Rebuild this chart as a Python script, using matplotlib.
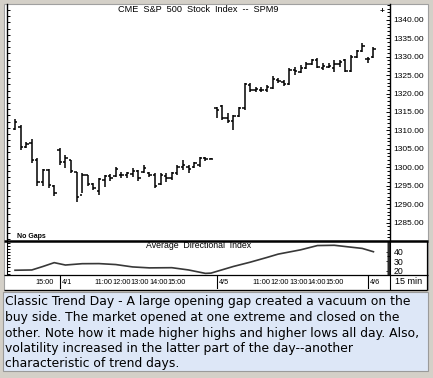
import matplotlib
matplotlib.use("Agg")
import matplotlib.pyplot as plt
import numpy as np
from matplotlib.lines import Line2D
from matplotlib.patches import Rectangle
from matplotlib.transforms import blended_transform_factory
from matplotlib import font_manager

W, H = 433, 378

# 15 min bars: 3/31 afternoon, 4/1, 4/5, 4/6 open
highs = [1313.1, 1311.5, 1306.8, 1307.7, 1302.6, 1299.6, 1299.6, 1295.2,
         1305.3, 1303.4, 1302.0, 1298.8, 1298.5, 1298.0, 1295.8, 1297.0, 1298.0, 1298.3,
         1300.1, 1298.8, 1298.8, 1299.9, 1299.3, 1300.7, 1298.8, 1298.5, 1298.5, 1298.5,
         1298.8, 1300.7, 1302.0, 1300.7, 1301.5, 1302.8, 1302.8, 1302.4,
         1316.4, 1316.9, 1314.7, 1314.2, 1316.4, 1322.8, 1322.8, 1321.8, 1321.8, 1322.3,
         1324.7, 1324.2, 1323.6, 1326.9, 1327.2, 1327.7, 1328.5, 1329.3, 1329.6, 1328.2,
         1328.2, 1329.1, 1329.1, 1329.5, 1330.4, 1331.8, 1333.6,
         1330.0, 1332.6]
lows = [1310.0, 1304.7, 1305.2, 1301.2, 1295.0, 1295.0, 1294.5, 1292.2,
        1300.7, 1299.9, 1298.5, 1290.7, 1293.1, 1295.0, 1293.9, 1292.6, 1294.7, 1296.2,
        1297.4, 1297.2, 1297.2, 1297.4, 1296.2, 1298.5, 1297.4, 1294.4, 1295.3, 1296.1,
        1296.6, 1298.0, 1299.3, 1298.5, 1299.9, 1300.1, 1301.8, 1302.2,
        1313.4, 1312.8, 1312.0, 1310.1, 1313.6, 1315.5, 1320.4, 1320.5, 1320.3, 1320.5,
        1321.2, 1322.8, 1322.0, 1322.3, 1325.0, 1325.6, 1326.6, 1327.7, 1326.9, 1326.4,
        1326.9, 1325.9, 1327.2, 1325.8, 1325.8, 1329.6, 1331.2,
        1328.4, 1329.6]
opens = [1310.5, 1311.0, 1305.4, 1306.5, 1302.0, 1296.0, 1299.3, 1294.8,
         1304.8, 1301.5, 1302.0, 1298.6, 1292.5, 1297.8, 1295.5, 1293.5, 1296.5, 1297.5,
         1297.5, 1298.0, 1297.8, 1298.2, 1299.0, 1298.8, 1298.5, 1298.0, 1295.5, 1297.5,
         1297.0, 1298.5, 1300.0, 1300.2, 1300.0, 1300.5, 1302.5, 1302.3,
         1316.0, 1316.5, 1313.5, 1312.5, 1314.0, 1316.0, 1322.3, 1321.0, 1321.0, 1321.0,
         1321.5, 1323.8, 1323.2, 1322.5, 1326.5, 1325.8, 1327.0, 1328.0, 1329.0, 1327.0,
         1327.2, 1327.0, 1328.0, 1329.0, 1326.0, 1330.0, 1331.5,
         1329.5, 1330.0]
closes = [1312.2, 1305.5, 1306.3, 1302.0, 1296.0, 1299.3, 1295.3, 1293.0,
          1301.5, 1302.6, 1299.0, 1292.0, 1298.0, 1295.5, 1294.5, 1296.8, 1297.5, 1297.0,
          1299.5, 1298.0, 1298.5, 1299.0, 1297.0, 1299.8, 1297.8, 1295.0, 1298.0, 1297.0,
          1298.5, 1300.2, 1300.5, 1299.5, 1301.2, 1302.5, 1302.2, 1302.3,
          1315.5, 1313.5, 1312.5, 1314.0, 1316.0, 1322.5, 1321.0, 1321.2, 1321.0, 1321.8,
          1324.0, 1323.5, 1322.5, 1326.5, 1326.0, 1327.0, 1328.0, 1329.0, 1327.2, 1327.5,
          1327.5, 1328.0, 1328.5, 1326.0, 1330.0, 1331.5, 1333.0,
          1329.5, 1332.0]

day_starts = [8, 36, 63]
day_labels = ["4/1", "4/5", "4/6"]
hour_labels = ["15:00", "11:00", "12:00", "13:00", "14:00", "15:00",
               "11:00", "12:00", "13:00", "14:00", "15:00"]
hour_pos = [5.2, 15.8, 19.05, 22.3, 25.6, 28.9, 44.05, 47.3, 50.6, 53.9, 57.1]

# Average Directional Index read at some bars
adx_bar = [0, 3, 5, 7, 9, 12, 15, 18, 21, 24, 28, 31, 34, 35, 39, 42, 45, 47, 51, 54, 57, 60, 62, 64]
adx_val = [20.5, 20.8, 24.5, 28.5, 26.0, 27.4, 27.5, 26.5, 24.0, 23.0, 23.2, 20.8, 17.2, 17.5,
           24.5, 29.0, 34.0, 37.5, 42.0, 46.5, 46.8, 44.8, 43.5, 40.0]

price_ticks = [1285, 1290, 1295, 1300, 1305, 1310, 1315, 1320, 1325, 1330, 1335, 1340]
adx_ticks = [20, 30, 40]

caption_lines = [
    "Classic Trend Day - A large opening gap created a vacuum on the",
    "buy side. The market opened at one extreme and closed on the",
    "other. Note how it made higher highs and higher lows all day. Also,",
    "volatility increased in the latter part of the day--another",
    "characteristic of trend days.",
]

names = set(f.name for f in font_manager.fontManager.ttflist)
base_font = "Liberation Sans"
if "Liberation Sans Narrow" in names:
    narrow_font, time_size = "Liberation Sans Narrow", 6.3
else:
    narrow_font, time_size = base_font, 5.3
plt.rcParams['font.family'] = [base_font, 'DejaVu Sans']


def px(x):
    return x / W


def py(y):
    return 1 - y / H


def fig_line(fig, x0, y0, x1, y1, lw=1.0, color='black'):
    fig.add_artist(Line2D([px(x0), px(x1)], [py(y0), py(y1)], transform=fig.transFigure,
                          color=color, lw=lw, solid_capstyle='butt', zorder=5))


def left_ticks(ax, vals, length_px, width_px):
    """ short tick marks on the inside of the left spine """
    tr = blended_transform_factory(ax.transAxes, ax.transData)
    ax.hlines(vals, 0, length_px / width_px, transform=tr, color='black', lw=0.7)


fig = plt.figure(figsize=(W / 100, H / 100), dpi=100, facecolor='#d4d0c8')
fig.add_artist(Rectangle((px(4), py(290)), (428 - 4) / W, (290 - 4) / H, transform=fig.transFigure,
                         facecolor='white', edgecolor='#a0a0a0', lw=0.8, zorder=-10))

xlim = (-1.43, 66.96)
idx = np.arange(len(highs))

# price panel
ax = fig.add_axes([px(7), py(241), (390 - 7) / W, (241 - 4) / H])
ax.set_facecolor('none')
ax.vlines(idx, lows, highs, color='black', lw=1.1)
ax.hlines(opens, idx - 0.42, idx, color='black', lw=1.1)
ax.hlines(closes, idx, idx + 0.42, color='black', lw=1.1)
ax.set_xlim(*xlim)
ax.set_ylim(1280, 1344.3)
ax.set_xticks([])
ax.set_yticks(price_ticks)
ax.set_yticks(np.arange(1280, 1345, 1), minor=True)
ax.set_yticklabels(["%.2f" % v for v in price_ticks])
ax.tick_params(axis='y', which='both', direction='in', left=False, right=True,
               labelleft=False, labelright=True, labelsize=6, pad=2.5, width=0.7)
ax.tick_params(axis='y', which='major', length=3)
ax.tick_params(axis='y', which='minor', length=2)
for s in ['top', 'bottom']:
    ax.spines[s].set_visible(False)
for s in ['left', 'right']:
    ax.spines[s].set_linewidth(1.0)
left_ticks(ax, np.arange(1280.5, 1344, 1.68), 2.5, 383)
ax.text(px(17), py(236), "No Gaps", transform=fig.transFigure, fontsize=5, fontweight='bold',
        ha='left', va='center')

# ADX panel
ax2 = fig.add_axes([px(7), py(275), (390 - 7) / W, (275 - 241) / H])
ax2.set_facecolor('none')
ax2.plot(adx_bar, adx_val, color='#383838', lw=1.2)
ax2.set_xlim(*xlim)
ax2.set_ylim(15.5, 51.3)
ax2.set_xticks([])
ax2.set_yticks(adx_ticks)
ax2.set_yticks(np.arange(16, 52, 1), minor=True)
ax2.tick_params(axis='y', which='both', direction='in', left=False, right=True,
                labelleft=False, labelright=True, labelsize=6.3, pad=2.5, width=0.6)
ax2.tick_params(axis='y', which='major', length=3)
ax2.tick_params(axis='y', which='minor', length=2)
for s in ['top', 'bottom']:
    ax2.spines[s].set_visible(False)
left_ticks(ax2, np.arange(17, 51, 3.2), 2.5, 383)

# time axis row
ax3 = fig.add_axes([px(7), py(289), (390 - 7) / W, (289 - 275) / H])
ax3.set_facecolor('none')
ax3.set_xlim(*xlim)
ax3.set_ylim(0, 1)
ax3.set_xticks([])
ax3.set_yticks([])
for s in ['top', 'bottom', 'left']:
    ax3.spines[s].set_visible(False)
for d, lab in zip(day_starts, day_labels):
    ax3.axvline(d, color='black', lw=0.8)
    ax3.text(d + 0.45, 0.5, lab, fontsize=time_size, family=narrow_font, ha='left', va='center')
for p, lab in zip(hour_pos, hour_labels):
    ax3.text(p, 0.5, lab, fontsize=time_size, family=narrow_font, ha='center', va='center')
fig.text(px(395), py(282), "15 min", fontsize=6.5, ha='left', va='center')

# frame lines
fig_line(fig, 4, 241, 428, 241, lw=1.8)
fig_line(fig, 4, 275, 428, 275, lw=0.9)
fig_line(fig, 4, 289.5, 427, 289.5, lw=0.9)
fig_line(fig, 427, 241, 427, 289.5, lw=0.9)

fig.text(px(198.5), py(10), "CME  S&P  500  Stock  Index  --  SPM9", fontsize=6.6,
         ha='center', va='center')
fig.text(px(382), py(11.5), "+", fontsize=6, fontweight='bold', ha='center', va='center')
fig.text(px(198.5), py(246), "Average  Directional  Index", fontsize=6.3, ha='center', va='center')

# caption box
fig.add_artist(Rectangle((px(3), py(371)), (428 - 3) / W, (371 - 292) / H, transform=fig.transFigure,
                         facecolor='#dde7f7', edgecolor='#9a9a9a', lw=0.8))
for k, line in enumerate(caption_lines):
    fig.text(px(5), py(302 + 15.5 * k), line, fontsize=8.9, family='DejaVu Sans',
             ha='left', va='center', color='black')

fig.savefig('out.png', dpi=100, facecolor=fig.get_facecolor())
